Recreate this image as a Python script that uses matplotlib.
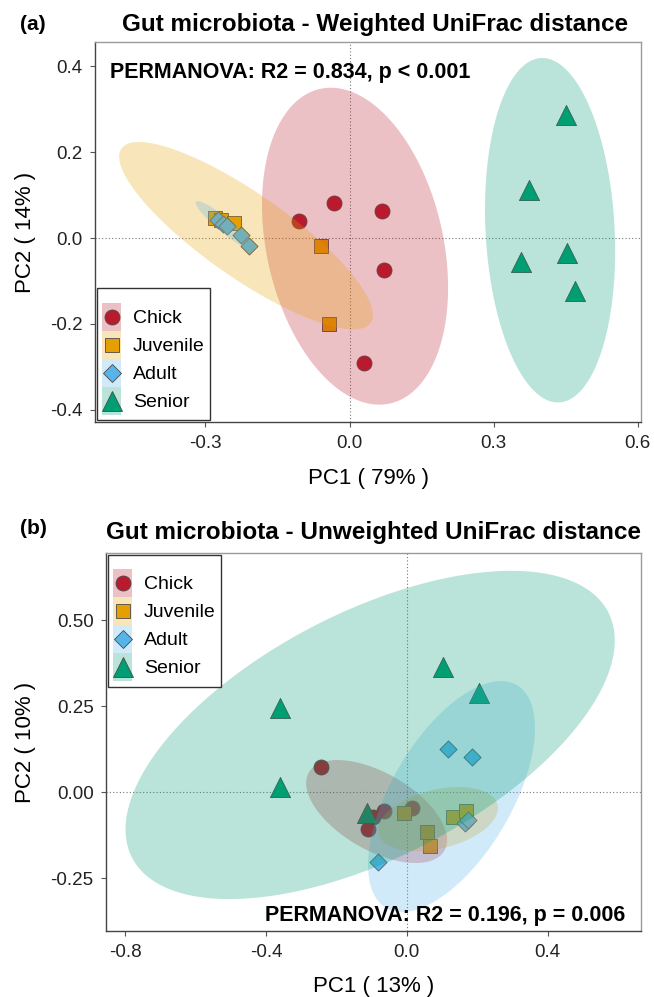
import numpy as np
import matplotlib
matplotlib.use("Agg")
import matplotlib.pyplot as plt
from collections import namedtuple
from matplotlib.lines import Line2D
from matplotlib.patches import Rectangle
from matplotlib.colors import to_rgba

plt.rcParams["font.family"] = ["Liberation Sans", "DejaVu Sans"]
plt.rcParams["axes.unicode_minus"] = False

groups = ["Chick", "Juvenile", "Adult", "Senior"]
colors = ["#BA1A2E", "#E69F00", "#56B4E9", "#009E73"]
markers = ["o", "s", "D", "^"]
msizes = [10.8, 10.0, 8.7, 14.5]

# --- (a) weighted UniFrac PCoA scores ---
chick_a_x = [-0.105, -0.032, 0.067, 0.072, 0.031]
chick_a_y = [0.039, 0.081, 0.064, -0.075, -0.290]
juv_a_x = [-0.280, -0.268, -0.241, -0.059, -0.043]
juv_a_y = [0.047, 0.043, 0.036, -0.018, -0.200]
adult_a_x = [-0.273, -0.263, -0.256, -0.226, -0.209]
adult_a_y = [0.043, 0.033, 0.028, 0.008, -0.019]
senior_a_x = [0.451, 0.374, 0.357, 0.453, 0.470]
senior_a_y = [0.287, 0.112, -0.056, -0.036, -0.124]

# 95% ellipses: centre, semi-axis vector P, conjugate semi-axis Q
ell_a_center = [(0.0115, -0.019), (-0.2156, 0.0053), (-0.259, 0.0286), (0.4177, 0.0181)]
ell_a_p = [(-0.0727, 0.366), (0.2594, -0.2028), (0.0604, -0.0557), (-0.0188, 0.4006)]
ell_a_q = [(-0.1796, -0.0444), (0.0500, 0.0800), (0.0093, 0.0125), (-0.1342, -0.0078)]

# --- (b) unweighted UniFrac PCoA scores ---
chick_b_x = [-0.244, -0.109, -0.095, -0.066, 0.014]
chick_b_y = [0.074, -0.106, -0.072, -0.054, -0.047]
juv_b_x = [-0.008, 0.132, 0.168, 0.058, 0.066]
juv_b_y = [-0.062, -0.074, -0.055, -0.117, -0.157]
adult_b_x = [0.116, 0.186, 0.165, 0.175, -0.081]
adult_b_y = [0.125, 0.101, -0.091, -0.081, -0.203]
senior_b_x = [0.104, 0.205, -0.359, -0.359, -0.114]
senior_b_y = [0.364, 0.289, 0.243, 0.015, -0.060]

ell_b_center = [(-0.0857, -0.0567), (0.0888, -0.0785), (0.127, -0.013), (-0.104, 0.166)]
ell_b_p = [(0.1924, -0.1138), (0.169, 0.0419), (0.1858, 0.3238), (0.676, 0.357)]
ell_b_q = [(0.0548, 0.0972), (-0.0196, 0.0831), (-0.147, 0.0885), (-0.1595, 0.3167)]

ELL_ALPHA = 0.27
EDGE = "#4a4a4a"

Key = namedtuple("Key", "color marker ms")


class KeyHandler:
    # ggplot-style key: ellipse-coloured tile with the point centred on it
    def legend_artist(self, legend, orig_handle, fontsize, handlebox):
        x0, y0 = -handlebox.xdescent, -handlebox.ydescent
        w, h = handlebox.width, handlebox.height
        tr = handlebox.get_transform()
        rect = Rectangle((x0, y0), w, h, facecolor=to_rgba(orig_handle.color, ELL_ALPHA),
                         edgecolor="none", transform=tr)
        mk = Line2D([x0 + w / 2], [y0 + h / 2], marker=orig_handle.marker, ls="none",
                    markersize=orig_handle.ms, markerfacecolor=orig_handle.color,
                    markeredgecolor=EDGE, markeredgewidth=0.6, transform=tr)
        handlebox.add_artist(rect)
        handlebox.add_artist(mk)
        return rect


def draw_panel(ax, xs, ys, centers, ps, qs):
    ax.axhline(0, color="#777777", lw=0.8, ls=(0, (1, 2)), zorder=1)
    ax.axvline(0, color="#777777", lw=0.8, ls=(0, (1, 2)), zorder=1)
    for x, y, c, m, ms in zip(xs, ys, colors, markers, msizes):
        ax.scatter(x, y, s=ms ** 2, marker=m, facecolor=c, edgecolor=EDGE,
                   linewidth=0.6, zorder=2)
    # ellipses sit on top of the points, like the original
    t = np.linspace(0, 2 * np.pi, 240)
    for cen, p, q, c in zip(centers, ps, qs, colors):
        ex = cen[0] + np.cos(t) * p[0] + np.sin(t) * q[0]
        ey = cen[1] + np.cos(t) * p[1] + np.sin(t) * q[1]
        ax.fill(ex, ey, color=c, alpha=ELL_ALPHA, lw=0, zorder=3)

    for side in ["left", "bottom"]:
        ax.spines[side].set_color("#444444")
    for side in ["top", "right"]:
        ax.spines[side].set_color("#9a9a9a")
    for sp in ax.spines.values():
        sp.set_linewidth(1.0)
    ax.tick_params(direction="out", length=3.6, width=0.8, color="#555555",
                   labelsize=13.5, labelcolor="#222222", pad=5.4)


def add_legend(ax, loc):
    handles = [Key(c, m, ms) for c, m, ms in zip(colors, markers, msizes)]
    # blank title just to get ggplot's empty strip above the keys
    leg = ax.legend(handles, groups, loc=loc, fontsize=14, title=" ", title_fontsize=6.5,
                    handler_map={Key: KeyHandler()},
                    handlelength=0.98, handleheight=1.84, labelspacing=0.0,
                    handletextpad=0.6, borderpad=0.28, borderaxespad=0.08,
                    fancybox=False, framealpha=1, edgecolor="#333333")
    leg.get_frame().set_linewidth(1.0)
    leg.set_zorder(5)


fig = plt.figure(figsize=(6.54, 9.97), dpi=100)

# (a)
ax1 = fig.add_axes([95 / 654, 1 - 422 / 997, 546 / 654, 380 / 997])
draw_panel(ax1,
           [chick_a_x, juv_a_x, adult_a_x, senior_a_x],
           [chick_a_y, juv_a_y, adult_a_y, senior_a_y],
           ell_a_center, ell_a_p, ell_a_q)
ax1.set_xlim(-0.530, 0.607)
ax1.set_ylim(-0.428, 0.456)
ax1.set_xticks([-0.3, 0.0, 0.3, 0.6])
ax1.set_xticklabels(["-0.3", "0.0", "0.3", "0.6"])
ax1.set_yticks([-0.4, -0.2, 0.0, 0.2, 0.4])
ax1.set_yticklabels(["-0.4", "-0.2", "0.0", "0.2", "0.4"])
ax1.set_xlabel("PC1 ( 79% )", fontsize=16)
ax1.set_ylabel("PC2 ( 14% )", fontsize=16)
ax1.xaxis.set_label_coords(0.5, -0.12)
ax1.yaxis.set_label_coords(-0.108, 0.5)
ax1.text(0.0275, 0.921, "PERMANOVA: R2 = 0.834, p < 0.001", transform=ax1.transAxes,
         fontsize=15.5, fontweight="bold", ha="left", va="center", zorder=6)
add_legend(ax1, "lower left")

# (b)
ax2 = fig.add_axes([106 / 654, 1 - 931 / 997, 535 / 654, 378 / 997])
draw_panel(ax2,
           [chick_b_x, juv_b_x, adult_b_x, senior_b_x],
           [chick_b_y, juv_b_y, adult_b_y, senior_b_y],
           ell_b_center, ell_b_p, ell_b_q)
ax2.set_xlim(-0.854, 0.665)
ax2.set_ylim(-0.404, 0.695)
ax2.set_xticks([-0.8, -0.4, 0.0, 0.4])
ax2.set_xticklabels(["-0.8", "-0.4", "0.0", "0.4"])
ax2.set_yticks([-0.25, 0.0, 0.25, 0.5])
ax2.set_yticklabels(["-0.25", "0.00", "0.25", "0.50"])
ax2.set_xlabel("PC1 ( 13% )", fontsize=16)
ax2.set_ylabel("PC2 ( 10% )", fontsize=16)
ax2.xaxis.set_label_coords(0.5, -0.12)
ax2.yaxis.set_label_coords(-0.130, 0.5)
ax2.text(0.970, 0.04, "PERMANOVA: R2 = 0.196, p = 0.006", transform=ax2.transAxes,
         fontsize=15.5, fontweight="bold", ha="right", va="center", zorder=6)
add_legend(ax2, "upper left")

fig.text(375 / 654, 1 - 25 / 997, "Gut microbiota - Weighted UniFrac distance",
         fontsize=17.5, fontweight="bold", ha="center", va="center")
fig.text(20 / 654, 1 - 25 / 997, "(a)", fontsize=15, fontweight="bold",
         ha="left", va="center")
fig.text(373 / 654, 1 - 533 / 997, "Gut microbiota - Unweighted UniFrac distance",
         fontsize=17.5, fontweight="bold", ha="center", va="center")
fig.text(20 / 654, 1 - 528 / 997, "(b)", fontsize=15, fontweight="bold",
         ha="left", va="center")

fig.savefig("out.png", dpi=100)
